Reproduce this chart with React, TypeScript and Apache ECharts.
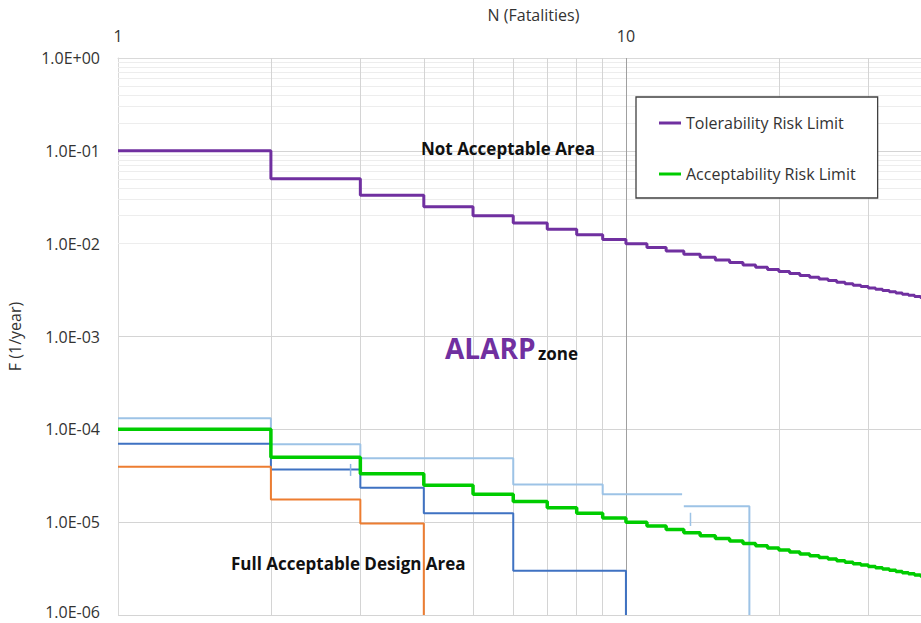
import React, { useEffect, useRef } from 'react';
import * as echarts from 'echarts';

// ---- Data ----
const N_STEPS = [1, 2, 3, 4, 5, 6, 7, 8, 9, 10, 11, 12, 13, 14, 15, 16, 17, 18, 19, 20,
  21, 22, 23, 24, 25, 26, 27, 28, 29, 30, 31, 32, 33, 34, 35, 36, 37, 38, 39, 40];

const TOLERABILITY_F = [0.1, 0.05, 0.0333, 0.025, 0.02, 0.0167, 0.0143, 0.0125, 0.0111, 0.01,
  0.00909, 0.00833, 0.00769, 0.00714, 0.00667, 0.00625, 0.00588, 0.00556, 0.00526, 0.005,
  0.00476, 0.00455, 0.00435, 0.00417, 0.004, 0.00385, 0.0037, 0.00357, 0.00345, 0.00333,
  0.00323, 0.00313, 0.00303, 0.00294, 0.00286, 0.00278, 0.0027, 0.00263, 0.00256, 0.0025];

const ACCEPTABILITY_F = [1e-4, 5e-5, 3.33e-5, 2.5e-5, 2e-5, 1.67e-5, 1.43e-5, 1.25e-5, 1.11e-5, 1e-5,
  9.09e-6, 8.33e-6, 7.69e-6, 7.14e-6, 6.67e-6, 6.25e-6, 5.88e-6, 5.56e-6, 5.26e-6, 5e-6,
  4.76e-6, 4.55e-6, 4.35e-6, 4.17e-6, 4e-6, 3.85e-6, 3.7e-6, 3.57e-6, 3.45e-6, 3.33e-6,
  3.23e-6, 3.13e-6, 3.03e-6, 2.94e-6, 2.86e-6, 2.78e-6, 2.7e-6, 2.63e-6, 2.56e-6, 2.5e-6];

// light blue design curve (two pieces)
const CASE_A1_N = [1, 2, 3, 6, 9, 12.9];
const CASE_A1_F = [1.32e-4, 6.9e-5, 4.88e-5, 2.55e-5, 2.0e-5, 2.0e-5];
const CASE_A2_N = [13, 17.5];
const CASE_A2_F = [1.48e-5, 1e-6];
// dark blue design curve
const CASE_B_N = [1, 2, 3, 4, 6, 10];
const CASE_B_F = [7.0e-5, 3.7e-5, 2.35e-5, 1.25e-5, 3.0e-6, 1e-6];
// orange design curve
const CASE_C_N = [1, 2, 3, 4];
const CASE_C_F = [3.95e-5, 1.75e-5, 9.7e-6, 1e-6];
// small vertical tick marks
const TICK1_N = [2.87, 2.87];
const TICK1_F = [4.24e-5, 3.15e-5];
const TICK2_N = [13.4, 13.4];
const TICK2_F = [1.26e-5, 9.1e-6];

// gridline positions
const X_GRID = [2, 3, 4, 5, 6, 7, 8, 9, 10, 20, 30];
const Y_DECADES = [1e-6, 1e-5, 1e-4, 1e-3, 1e-2, 1e-1];
const Y_MINOR_MULT = [2, 3, 4, 5, 6, 7, 8, 9];

const FONT = "'Open Sans', sans-serif";

const pair = (xs: number[], ys: number[]) => xs.map((x, i) => [x, ys[i]]);

export default function App() {
  const ref = useRef<HTMLDivElement>(null);

  useEffect(() => {
    if (!ref.current) return;
    const chart = echarts.init(ref.current, null, { renderer: 'svg' });

    const gridMarks: any[] = [
      ...Y_DECADES.flatMap((d) =>
        Y_MINOR_MULT.map((m) => ({
          yAxis: d * m,
          lineStyle: { color: '#ededed', width: 1, type: 'solid' },
        }))
      ),
      ...X_GRID.map((v) => ({
        xAxis: v,
        lineStyle: { color: v === 10 ? '#a0a0a0' : '#d4d4d4', width: 1, type: 'solid' },
      })),
    ];

    const thin = (name: string, data: number[][], color: string, width: number, step: any = 'end') => ({
      name,
      type: 'line',
      step,
      data,
      symbol: 'none',
      z: 10,
      lineStyle: { color, width },
      itemStyle: { color },
      silent: true,
    });

    const option: any = {
      animation: false,
      backgroundColor: '#ffffff',
      textStyle: { fontFamily: FONT },
      grid: { left: 118, top: 58, right: 0, bottom: 8, containLabel: false, outerBoundsMode: 'none' },
      legend: {
        data: ['Tolerability Risk Limit', 'Acceptability Risk Limit'],
        orient: 'vertical',
        left: 636,
        top: 97,
        padding: [18, 22, 16, 23],
        itemGap: 35,
        itemWidth: 22,
        itemHeight: 3,
        icon: 'rect',
        borderColor: '#404040',
        borderWidth: 1.3,
        backgroundColor: '#ffffff',
        selectedMode: false,
        textStyle: { fontFamily: FONT, fontSize: 16, color: '#333333' },
      },
      xAxis: {
        type: 'log',
        logBase: 10,
        position: 'top',
        min: 1,
        max: 38.1,
        name: 'N (Fatalities)',
        nameLocation: 'middle',
        nameGap: 32,
        nameTextStyle: { fontFamily: FONT, fontSize: 16, color: '#333333', padding: [0, 0, 0, 28] },
        axisLine: { show: true, lineStyle: { color: '#d9d9d9' } },
        axisTick: { show: false },
        axisLabel: { margin: 14, fontFamily: FONT, fontSize: 16, color: '#333333', showMaxLabel: false },
        splitLine: { show: false },
      },
      yAxis: {
        type: 'log',
        logBase: 10,
        min: 1e-6,
        max: 1,
        splitNumber: 6,
        name: 'F (1/year)',
        nameLocation: 'middle',
        nameGap: 95,
        nameTextStyle: { fontFamily: FONT, fontSize: 16, color: '#333333' },
        axisLine: { show: true, lineStyle: { color: '#d9d9d9' } },
        axisTick: { show: false },
        axisLabel: {
          margin: 18,
          fontFamily: FONT,
          fontSize: 16,
          lineHeight: 14,
          color: '#333333',
          formatter: (v: number) => {
            const e = Math.round(Math.log10(v));
            const s = Math.abs(e).toString().padStart(2, '0');
            const t = `1.0E${e >= 0 ? '+' : '-'}${s}`;
            return e <= -6 ? `{low|${t}}` : t;
          },
          rich: {
            low: { fontFamily: FONT, fontSize: 16, lineHeight: 14, color: '#333333', padding: [0, 0, 7, 0] },
          },
        },
        splitLine: { show: true, lineStyle: { color: '#d4d4d4' } },
      },
      series: [
        {
          name: 'grid',
          type: 'line',
          data: [[1, 1e-6]],
          symbol: 'none',
          lineStyle: { opacity: 0 },
          z: 1,
          silent: true,
          markLine: {
            silent: true,
            z: 1,
            symbol: ['none', 'none'],
            label: { show: false },
            emphasis: { disabled: true },
            data: gridMarks,
          },
        },
        thin('Design case A', pair(CASE_A1_N, CASE_A1_F), '#9DC3E6', 2),
        thin('Design case A (2)', pair(CASE_A2_N, CASE_A2_F), '#9DC3E6', 2),
        thin('Design case B', pair(CASE_B_N, CASE_B_F), '#3F72C2', 2),
        thin('Design case C', pair(CASE_C_N, CASE_C_F), '#ED7D31', 2),
        thin('Tick 1', pair(TICK1_N, TICK1_F), '#8DB4E2', 1.5, false),
        thin('Tick 2', pair(TICK2_N, TICK2_F), '#9DC3E6', 1.5, false),
        thin('Acceptability Risk Limit', pair(N_STEPS, ACCEPTABILITY_F), '#00CC00', 3.5),
        thin('Tolerability Risk Limit', pair(N_STEPS, TOLERABILITY_F), '#7030A0', 3),
      ],
      graphic: [
        {
          type: 'text',
          x: 421,
          y: 148,
          z: 20,
          style: { text: 'Not Acceptable Area', fontFamily: FONT, fontWeight: 'bold', fontSize: 17, fill: '#111111', align: 'left', verticalAlign: 'middle' },
        },
        {
          type: 'text',
          x: 445,
          y: 348,
          z: 20,
          style: { text: 'ALARP', fontFamily: FONT, fontWeight: 'bold', fontSize: 28, fill: '#7030A0', align: 'left', verticalAlign: 'middle' },
        },
        {
          type: 'text',
          x: 538,
          y: 353,
          z: 20,
          style: { text: 'zone', fontFamily: FONT, fontWeight: 'bold', fontSize: 17, fill: '#111111', align: 'left', verticalAlign: 'middle' },
        },
        {
          type: 'text',
          x: 231,
          y: 563,
          z: 20,
          style: { text: 'Full Acceptable Design Area', fontFamily: FONT, fontWeight: 'bold', fontSize: 17, fill: '#111111', align: 'left', verticalAlign: 'middle' },
        },
      ],
    };

    chart.setOption(option);
    return () => chart.dispose();
  }, []);

  return <div ref={ref} style={{ position: 'absolute', left: 0, top: 0, width: 921, height: 623 }} />;
}
